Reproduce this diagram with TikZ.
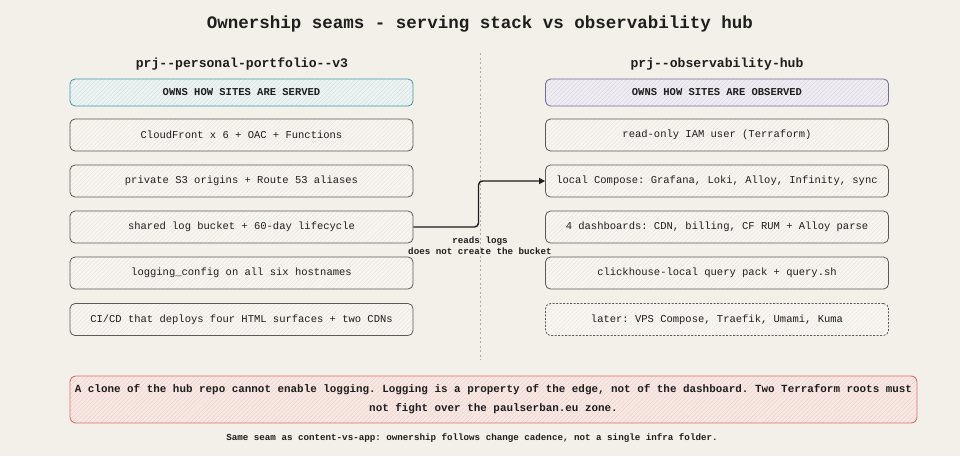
\documentclass[tikz,border=0pt]{standalone}
\usepackage{fontspec}
\setmainfont{Liberation Mono}[Ligatures=TeXOff]
\setmonofont{Liberation Mono}[Ligatures=TeXOff]
\usetikzlibrary{patterns.meta,arrows.meta}
\frenchspacing
\definecolor{bg}{HTML}{F3EFE9}
\definecolor{boxfill}{HTML}{F8F5F1}
\definecolor{boxhatch}{HTML}{E6E0D8}
\definecolor{boxline}{HTML}{5A5A5A}
\definecolor{tealline}{HTML}{3E9AA8}
\definecolor{tealfill}{HTML}{EEF3F2}
\definecolor{tealhatch}{HTML}{C4DEE0}
\definecolor{purpline}{HTML}{77699A}
\definecolor{purpfill}{HTML}{EFEDF1}
\definecolor{purphatch}{HTML}{D6D0E0}
\definecolor{redline}{HTML}{D9756E}
\definecolor{redfill}{HTML}{F8E8E4}
\definecolor{redhatch}{HTML}{EDCBC5}
\definecolor{txt}{HTML}{1E1E1E}
\definecolor{divider}{HTML}{ADADAD}
\tikzset{
  basebox/.style={rounded corners=5pt, line width=0.8pt, minimum width=343pt,
    minimum height=32pt, inner sep=0pt, font=\fontsize{10.5}{12}\selectfont, text=txt},
  plainbox/.style={basebox, draw=boxline, preaction={fill=boxfill},
    pattern={Lines[angle=45,distance=3pt,line width=0.35pt]}, pattern color=boxhatch},
  laterbox/.style={plainbox, dashed, dash pattern=on 2pt off 1.5pt},
  servedhead/.style={basebox, minimum height=27pt, draw=tealline, preaction={fill=tealfill},
    pattern={Lines[angle=45,distance=3pt,line width=0.35pt]}, pattern color=tealhatch,
    font=\bfseries\fontsize{10.5}{12}\selectfont},
  observedhead/.style={basebox, minimum height=27pt, draw=purpline, preaction={fill=purpfill},
    pattern={Lines[angle=45,distance=3pt,line width=0.35pt]}, pattern color=purphatch,
    font=\bfseries\fontsize{10.5}{12}\selectfont},
  notebox/.style={rounded corners=6pt, line width=0.9pt, draw=redline, preaction={fill=redfill},
    pattern={Lines[angle=45,distance=3pt,line width=0.35pt]}, pattern color=redhatch,
    minimum width=847pt, minimum height=47pt, inner sep=0pt, align=center, text=txt,
    font=\bfseries\fontsize{10.9}{19}\selectfont},
  coltitle/.style={font=\bfseries\fontsize{13.1}{15}\selectfont, text=txt},
  flow/.style={line width=1.4pt, draw=txt, rounded corners=4pt,
    -{Triangle[length=6pt,width=6pt]}},
  smalllabel/.style={font=\bfseries\fontsize{9.2}{11}\selectfont, text=txt, align=center}
}
\begin{document}
\begin{tikzpicture}[x=1pt,y=-1pt]
\useasboundingbox[fill=bg] (0,0) rectangle (960,456);

\node[font=\bfseries\fontsize{17.5}{20}\selectfont, text=txt] (title) at (480,24)
  {Ownership seams - serving stack vs observability hub};

\node[coltitle] (lt) at (242,64) {prj--personal-portfolio--v3};
\node[coltitle] (rt) at (717,64) {prj--observability-hub};

\coordinate (dtop) at (480,53);
\coordinate (dbot) at (480,360);
\draw[divider, line width=1pt, dash pattern=on 2pt off 2.5pt] (dtop) -- (dbot);

% left column
\node[servedhead] (lh) at (241.5,92.5) {OWNS HOW SITES ARE SERVED};
\node[plainbox] (l1) at (241.5,135) {CloudFront x 6 + OAC + Functions};
\node[plainbox] (l2) at (241.5,181) {private S3 origins + Route 53 aliases};
\node[plainbox] (l3) at (241.5,227) {shared log bucket + 60-day lifecycle};
\node[plainbox] (l4) at (241.5,273) {logging\_config on all six hostnames};
\node[plainbox] (l5) at (241.5,319.5) {CI/CD that deploys four HTML surfaces + two CDNs};

% right column
\node[observedhead] (rh) at (717,92.5) {OWNS HOW SITES ARE OBSERVED};
\node[plainbox] (r1) at (717,135) {read-only IAM user (Terraform)};
\node[plainbox] (r2) at (717,181) {local Compose: Grafana, Loki, Alloy, Infinity, sync};
\node[plainbox] (r3) at (717,227) {4 dashboards: CDN, billing, CF RUM + Alloy parse};
\node[plainbox] (r4) at (717,273) {clickhouse-local query pack + query.sh};
\node[laterbox] (r5) at (717,319.5) {later: VPS Compose, Traefik, Umami, Kuma};

% connector
\coordinate (bend) at (478.5,200);
\draw[flow] (l3.east) -- (bend |- l3.east) -- (bend |- r2.west) -- (r2.west);
\node[smalllabel] (lbl) at (480,245.5) {reads logs\\does not create the bucket};

% note
\node[notebox] (note) at (493.5,399.5)
  {A clone of the hub repo cannot enable logging. Logging is a property of the edge, not of the dashboard. Two Terraform roots must\\not fight over the paulserban.eu zone.};

\node[font=\bfseries\fontsize{9.2}{11}\selectfont, text=txt] (foot) at (472,438)
  {Same seam as content-vs-app: ownership follows change cadence, not a single infra folder.};
\end{tikzpicture}
\end{document}
